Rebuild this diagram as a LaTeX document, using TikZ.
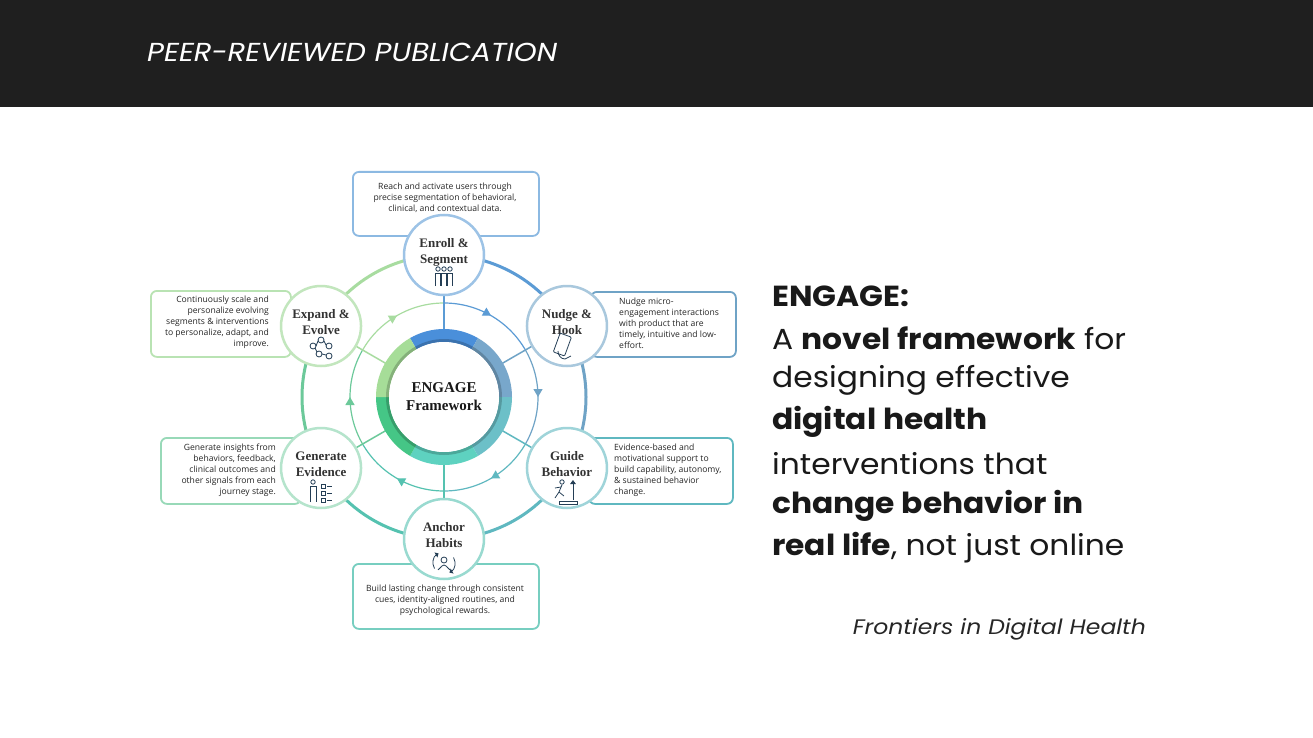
\documentclass[tikz,border=0pt]{standalone}
\usepackage{fontspec}
\setmainfont{Poppins}
\newfontfamily\serifl{Liberation Serif}
\newfontfamily\descf{Open Sans}
\usetikzlibrary{decorations.markings,arrows.meta,calc}
\definecolor{cA}{HTML}{5B9BD5}
\definecolor{cB}{HTML}{6FA3C6}
\definecolor{cC}{HTML}{5FB8C0}
\definecolor{cD}{HTML}{55C2B0}
\definecolor{cE}{HTML}{6CC99A}
\definecolor{cF}{HTML}{A8DCA0}
\definecolor{dA}{HTML}{4A8FDA}
\definecolor{dB}{HTML}{78A7CB}
\definecolor{dC}{HTML}{6CC0C8}
\definecolor{dD}{HTML}{5ED2C0}
\definecolor{dE}{HTML}{45C686}
\definecolor{dF}{HTML}{A6DD98}
\tikzset{
 sat/.style={circle,draw=#1,line width=2.5pt,fill=white,minimum size=80pt,inner sep=0pt,align=center,font=\serifl\bfseries\fontsize{13}{16}\selectfont,text=black!80},
 desc/.style={rounded corners=6pt,draw=#1,line width=1.8pt,fill=white},
 dtext/.style={font=\descf\fontsize{8.6}{11}\selectfont,text=black!85,inner sep=0pt},
 arc/.style={line width=3pt,#1},
 midarc/.style={line width=1.2pt,#1,postaction={decorate},decoration={markings,mark=at position 0.5 with {\arrow{Triangle[length=8pt,width=9pt]}}}},
 spoke/.style={line width=1.5pt,#1},
 ico/.style={line width=0.8pt,draw=#1}
}
\newcommand\widetxt[1]{\scalebox{1.08}[1]{#1}}
\begin{document}
\begin{tikzpicture}[x=1pt,y=-1pt]
\useasboundingbox (0,0) rectangle (1313,738);
\fill[white] (0,0) rectangle (1313,738);
\fill[black!88] (0,0) rectangle (1313,107);
\node[anchor=west,text=white,font=\itshape\fontsize{26}{30}\selectfont,inner sep=0pt] (title) at (147,52) {\scalebox{1.12}[1]{PEER-REVIEWED PUBLICATION}};
% description boxes
\node[desc=cA!70,minimum width=186pt,minimum height=64pt,anchor=north west,inner sep=0pt] (dtop) at (352,171) {};
\node[dtext,align=center] (ttop) at (445,198) {Reach and activate users through\\precise segmentation of behavioral,\\clinical, and contextual data.};
\node[desc=cB,minimum width=145pt,minimum height=65pt,anchor=north west,inner sep=0pt] (dnud) at (590,291) {};
\node[dtext,align=left,anchor=west] (tnud) at (619,323) {Nudge micro-\\engagement interactions\\with product that are\\timely, intuitive and low-\\effort.};
\node[desc=cC,minimum width=144pt,minimum height=66pt,anchor=north west,inner sep=0pt] (dgui) at (588,437) {};
\node[dtext,align=left,anchor=west] (tgui) at (614,470) {Evidence-based and\\motivational support to\\build capability, autonomy,\\\& sustained behavior\\change.};
\node[desc=cD!80,minimum width=186pt,minimum height=65pt,anchor=north west,inner sep=0pt] (danc) at (352,563) {};
\node[dtext,align=center] (tanc) at (445,600) {Build lasting change through consistent\\cues, identity-aligned routines, and\\psychological rewards.};
\node[desc=cE!70,minimum width=140pt,minimum height=66pt,anchor=north west,inner sep=0pt] (dgen) at (160,437) {};
\node[dtext,align=right,anchor=east] (tgen) at (276,470) {Generate insights from\\behaviors, feedback,\\clinical outcomes and\\other signals from each\\journey stage.};
\node[desc=cF!80,minimum width=140pt,minimum height=66pt,anchor=north west,inner sep=0pt] (dexp) at (150,290) {};
\node[dtext,align=right,anchor=east] (texp) at (269,322) {Continuously scale and\\personalize evolving\\segments \& interventions\\to personalize, adapt, and\\improve.};
% coordinates
\coordinate (c) at (444,397);
\foreach \n/\a in {pE/90,pN/30,pG/-30,pA/-90,pV/210,pX/150}{\coordinate (\n) at ($(c)+(\a:142 and -142)$);}
% outer arcs
\draw[arc=cA] (444,255) arc[start angle=-90,end angle=-30,radius=142];
\draw[arc=cB] ($(c)+(30:142 and -142)$) arc[start angle=-30,end angle=30,radius=142];
\draw[arc=cC] ($(c)+(-30:142 and -142)$) arc[start angle=30,end angle=90,radius=142];
\draw[arc=cD] (444,539) arc[start angle=90,end angle=150,radius=142];
\draw[arc=cE] ($(c)+(210:142 and -142)$) arc[start angle=150,end angle=210,radius=142];
\draw[arc=cF] ($(c)+(150:142 and -142)$) arc[start angle=210,end angle=270,radius=142];
% middle ring with arrows (clockwise on screen)
\draw[midarc=cA] (444,303) arc[start angle=-90,end angle=-30,radius=94];
\draw[midarc=cB] ($(c)+(30:94 and -94)$) arc[start angle=-30,end angle=30,radius=94];
\draw[midarc=cC] ($(c)+(-30:94 and -94)$) arc[start angle=30,end angle=90,radius=94];
\draw[midarc=cD] (444,491) arc[start angle=90,end angle=150,radius=94];
\draw[midarc=cE] ($(c)+(210:94 and -94)$) arc[start angle=150,end angle=210,radius=94];
\draw[midarc=cF] ($(c)+(150:94 and -94)$) arc[start angle=210,end angle=270,radius=94];
% spokes
\foreach \a/\col in {90/cA,30/cB,-30/cC,-90/cD,210/cE,150/cF}{
 \draw[spoke=\col] ($(c)+(\a:66 and -66)$) -- ($(c)+(\a:104 and -104)$);}
% donut
\foreach \s/\e/\col in {60/120/dA,0/60/dB,-60/0/dC,-120/-60/dD,180/240/dE,120/180/dF}{
 \fill[\col] ($(c)+(\s:68 and -68)$) arc[start angle=-\s,end angle=-\e,radius=68] -- ($(c)+(\e:55 and -55)$) arc[start angle=-\e,end angle=-\s,radius=55] -- cycle;}
\foreach \s/\e/\col in {60/120/dA,0/60/dB,-60/0/dC,-120/-60/dD,180/240/dE,120/180/dF}{
 \fill[\col!80!black] ($(c)+(\s:58 and -58)$) arc[start angle=-\s,end angle=-\e,radius=58] -- ($(c)+(\e:55 and -55)$) arc[start angle=-\e,end angle=-\s,radius=55] -- cycle;}
\node[circle,fill=white,minimum size=110pt,font=\serifl\bfseries\fontsize{15}{18}\selectfont,align=center,text=black!90] (core) at (c) {ENGAGE\\Framework};
% satellites
\node[sat=cA!60] (enroll) at (pE) {\raisebox{17pt}{\parbox{70pt}{\centering Enroll \&\\Segment}}};
\node[sat=cB!60] (nudge) at (pN) {\raisebox{17pt}{\parbox{70pt}{\centering Nudge \&\\Hook}}};
\node[sat=cC!60] (guide) at (pG) {\raisebox{17pt}{\parbox{70pt}{\centering Guide\\Behavior}}};
\node[sat=cD!60] (anchor) at (pA) {\raisebox{17pt}{\parbox{70pt}{\centering Anchor\\Habits}}};
\node[sat=cE!50] (gener) at (pV) {\raisebox{17pt}{\parbox{70pt}{\centering Generate\\Evidence}}};
\node[sat=cF!70] (expand) at (pX) {\raisebox{17pt}{\parbox{70pt}{\centering Expand \&\\Evolve}}};
% icons
\begin{scope}[ico=black!60!cA]
 \foreach \dx in {-6,0,6}{\draw ($(enroll)+(\dx,14)$) circle (2.2); \draw ($(enroll)+(\dx-2.5,31)$) -- ++(0,-13) -- ++(5,0) -- ++(0,13);}
 \draw[rotate around={-20:($(nudge)+(2,19)$)},rounded corners=1pt] ($(nudge)+(-4,9)$) rectangle ($(nudge)+(8,29)$);
 \draw ($(nudge)+(-9,25)$) to[out=-90,in=180] ($(nudge)+(-2,33)$) -- ($(nudge)+(4,30)$);
 \draw ($(guide)+(-5,14)$) circle (2.2); \draw ($(guide)+(-5,17)$) -- ($(guide)+(-8,24)$) -- ($(guide)+(-12,30)$); \draw ($(guide)+(-8,24)$) -- ($(guide)+(-3,28)$);
 \draw ($(guide)+(-6,19)$) -- ($(guide)+(-12,20)$); \draw[-{Triangle[length=4pt]}] ($(guide)+(6,32)$) -- ($(guide)+(6,12)$);
 \draw ($(guide)+(-8,33)$) rectangle ($(guide)+(10,36)$);
 \draw ($(anchor)+(0,21)$) circle (3); \draw ($(anchor)+(-6,30)$) to[out=-90,in=180] ($(anchor)+(0,26)$) to[out=0,in=-90] ($(anchor)+(6,30)$);
 \draw[-{Triangle[length=3pt]}] ($(anchor)+(-9.5,29.5)$) arc[start angle=150,end angle=240,radius=11];
 \draw[-{Triangle[length=3pt]}] ($(anchor)+(9.5,18.5)$) arc[start angle=-30,end angle=60,radius=11];
 \draw ($(gener)+(-8,14)$) circle (2.2); \draw ($(gener)+(-11,34)$) -- ++(0,-16) -- ++(6,0) -- ++(0,16);
 \foreach \dy in {16,23,30}{\draw ($(gener)+(0,\dy)$) rectangle ++(4,4); \draw ($(gener)+(6,\dy+2)$) -- ++(5,0);}
 \foreach \px/\py in {-8/20,0/14,8/20,-2/28,8/30}{\draw ($(expand)+(\px,\py)$) circle (3);}
 \draw ($(expand)+(-5,20)$) -- ($(expand)+(-3,15)$) ($(expand)+(3,15)$) -- ($(expand)+(5,19)$) ($(expand)+(-6,22)$) -- ($(expand)+(-4,26)$) ($(expand)+(1,28)$) -- ($(expand)+(5,29)$);
\end{scope}
% right text
\begin{scope}[every node/.style={anchor=west,font=\fontsize{29}{42}\selectfont,text=black!90,inner sep=0pt}]
\node (r1) at (772,296) {\widetxt{\textbf{ENGAGE:}}};
\node (r2) at (772,338) {\widetxt{A \textbf{novel framework} for}};
\node (r3) at (772,380) {\widetxt{designing effective}};
\node (r4) at (772,422) {\widetxt{\textbf{digital health}}};
\node (r5) at (772,464) {\widetxt{interventions that}};
\node (r6) at (772,506) {\widetxt{\textbf{change behavior in}}};
\node (r7) at (772,548) {\widetxt{\textbf{real life}, not just online}};
\end{scope}
\node[anchor=east,font=\itshape\fontsize{21}{24}\selectfont,text=black!85,inner sep=0pt] (src) at (1146,629) {\scalebox{1.12}[1]{Frontiers in Digital Health}};
\end{tikzpicture}
\end{document}
